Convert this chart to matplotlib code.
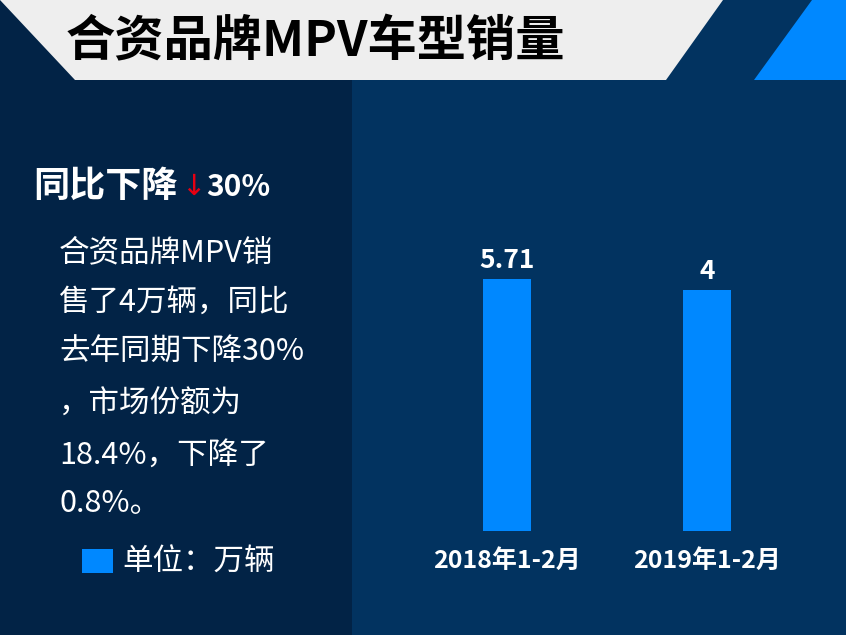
import matplotlib
matplotlib.use("Agg")
import matplotlib.pyplot as plt
from matplotlib.patches import Polygon, Rectangle

plt.rcParams['font.family'] = ['Noto Sans CJK SC', 'DejaVu Sans']

# ---- data ----
categories = ['2018年1-2月', '2019年1-2月']
sales = [5.71, 4]
value_labels = ['5.71', '4']
title = '合资品牌MPV车型销量'
headline = '同比下降'
headline_pct = '30%'
body_lines = ['合资品牌MPV销', '售了4万辆，同比', '去年同期下降30%',
              '，市场份额为', '18.4%，下降了', '0.8%。']
unit_label = '单位：万辆'

# ---- style ----
W, H = 846, 635
LEFT_BG = '#022346'
RIGHT_BG = '#023360'
BANNER = '#eeeeee'
BLUE = '#0088ff'
BASE = -33.4  # visual baseline of the bars in the original

fig = plt.figure(figsize=(W / 100, H / 100), dpi=100)
fig.patch.set_facecolor(RIGHT_BG)

def fx(x):
    return x / W

def fy(y):
    return 1 - y / H

def pts(seq):
    return [(fx(x), fy(y)) for x, y in seq]

# panels
fig.patches.append(Rectangle((0, 0), fx(352), 1, transform=fig.transFigure,
                             facecolor=LEFT_BG, edgecolor='none', zorder=0))
fig.patches.append(Rectangle((fx(352), 0), 1 - fx(352), 1, transform=fig.transFigure,
                             facecolor=RIGHT_BG, edgecolor='none', zorder=0))
fig.patches.append(Polygon(pts([(0, 0), (723, 0), (666, 80), (75, 80)]), closed=True,
                           transform=fig.transFigure, facecolor=BANNER, edgecolor='none', zorder=1))
fig.patches.append(Polygon(pts([(812, 0), (846, 0), (846, 80), (754, 80)]), closed=True,
                           transform=fig.transFigure, facecolor=BLUE, edgecolor='none', zorder=1))

# title
fig.text(fx(66), fy(42), title, fontsize=35.5, fontweight='heavy', color='black',
         ha='left', va='center', zorder=3)

# headline
fig.text(fx(33), fy(186), headline, fontsize=26, fontweight='bold', color='white',
         ha='left', va='center')
fig.text(fx(205), fy(187), '↓', fontsize=21, color='#e60012', ha='right', va='center',
         family=['DejaVu Sans'])
fig.text(fx(206), fy(187), headline_pct, fontsize=21.5, fontweight='bold', color='white',
         ha='left', va='center')

# body text
line_y = [253, 302, 352, 404, 455, 503]
for txt, yy in zip(body_lines, line_y):
    fig.text(fx(59), fy(yy), txt, fontsize=22, color='white', ha='left', va='center')

# unit legend
fig.patches.append(Rectangle((fx(82), fy(573)), fx(31), 24 / H, transform=fig.transFigure,
                             facecolor=BLUE, edgecolor='none', zorder=2))
fig.text(fx(122), fy(562), unit_label, fontsize=22, color='white', ha='left', va='center')

# bar chart axes
ax_left, ax_right = 402, 812
ax_top, ax_bot = 231, 531
ax = fig.add_axes([fx(ax_left), fy(ax_bot), (ax_right - ax_left) / W, (ax_bot - ax_top) / H])
ax.set_zorder(5)
ax.set_facecolor('none')
px_per_unit = 252 / (sales[0] - BASE)
ax.set_ylim(BASE, BASE + (ax_bot - ax_top) / px_per_unit)
ax.set_xlim(-0.525, 1.525)

x = list(range(len(categories)))
heights = [v - BASE for v in sales]
ax.bar(x, heights, bottom=BASE, width=0.24, color=BLUE)
for xi, v, lab in zip(x, sales, value_labels):
    ax.annotate(lab, (xi, v), xytext=(0, 8), textcoords='offset points',
                ha='center', va='baseline', fontsize=19, fontweight='bold', color='white',
                annotation_clip=False)

ax.set_xticks(x)
ax.set_xticklabels(categories, fontsize=18, fontweight='bold', color='white')
ax.tick_params(axis='x', length=0, pad=13)
ax.set_yticks([])
for s in ax.spines.values():
    s.set_visible(False)

fig.savefig('out.png', dpi=100, facecolor=fig.get_facecolor())
